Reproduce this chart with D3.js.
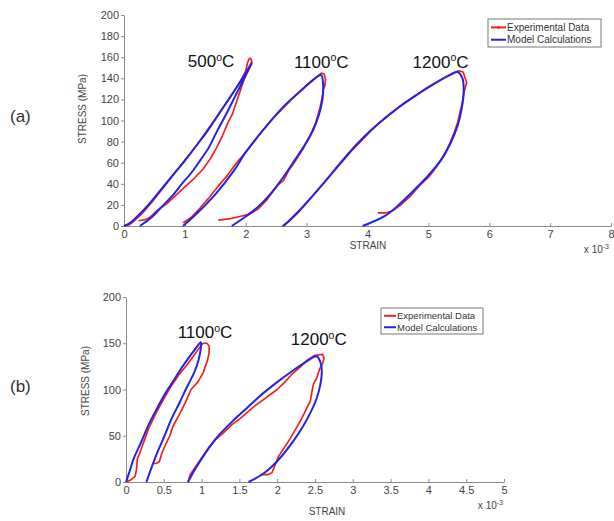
<!DOCTYPE html>
<html><head><meta charset="utf-8">
<script src="https://cdn.jsdelivr.net/npm/d3@7/dist/d3.min.js"></script>
<style>body{margin:0;background:#fff}svg{display:block;font-family:"Liberation Sans",Arial,sans-serif}</style>
</head><body><svg id="c" width="614" height="521"></svg>
<script>
// ---------- DATA (strain in 1e-3, stress in MPa) ----------
const topXTicks = [0,1,2,3,4,5,6,7,8];
const topYTicks = [0,20,40,60,80,100,120,140,160,180,200];
const botXTicks = [0,0.5,1,1.5,2,2.5,3,3.5,4,4.5,5];
const botYTicks = [0,50,100,150,200];
const legendLabels = ["Experimental Data","Model Calculations"];

// Panel (a)
const a500Model = [[0,0],[0.1,3],[0.2,8],[0.4,20],[0.6,34],[0.8,48],[1.0,62],[1.2,77],[1.4,93],[1.6,110],[1.8,127],[2.0,145],[2.1,155],
  [1.93,135],[1.8,120],[1.66,104],[1.52,89],[1.4,75],[1.25,62],[1.1,50],[0.95,40],[0.8,29],[0.6,17],[0.45,8],[0.26,0]];
const a500Exp = [[0,0],[0.08,1],[0.15,4],[0.3,12],[0.45,22],[0.6,33],[0.75,44],[0.9,55],[1.05,66],[1.2,77],[1.35,88],[1.5,101],[1.65,114],[1.8,127],[1.92,138],[2.0,147],[2.03,155],[2.06,159],[2.09,158],[2.1,154],
  [2.05,148],[1.98,140],[1.92,130],[1.85,118],[1.78,106],[1.7,97],[1.62,86],[1.52,74],[1.42,64],[1.3,54],[1.15,45],[1.0,37],[0.85,29],[0.7,21],[0.55,15],[0.42,8],[0.35,6],[0.24,5]];
const a1100Model = [[0.97,0],[1.2,12],[1.5,30],[1.8,52],[2.0,70],[2.3,92],[2.6,112],[2.9,128],[3.1,138],[3.24,143],
  [3.27,135],[3.26,120],[3.2,105],[3.1,90],[2.95,75],[2.8,62],[2.6,45],[2.4,30],[2.2,18],[2.0,9],[1.77,0]];
const a1100Exp = [[0.97,3],[1.1,8],[1.25,17],[1.4,27],[1.55,38],[1.7,48],[1.85,60],[2.0,70],[2.15,81],[2.3,92],[2.45,102],[2.6,111],[2.75,120],[2.9,128],[3.05,136],[3.18,142],[3.24,145],[3.29,144],[3.31,139],[3.3,133],[3.27,129],
  [3.27,126],[3.22,112],[3.15,98],[3.06,86],[2.95,74],[2.82,62],[2.7,52],[2.62,43],[2.55,40],[2.45,33],[2.35,25],[2.2,16],[2.05,11],[1.9,9],[1.75,7],[1.55,5.5]];
const a1200Model = [[2.62,0],[2.8,10],[3.0,22],[3.3,42],[3.6,63],[3.9,82],[4.2,98],[4.5,112],[4.8,124],[5.1,135],[5.35,143],[5.48,146],
  [5.56,140],[5.58,128],[5.55,112],[5.48,95],[5.36,78],[5.2,62],[5.0,48],[4.8,36],[4.55,22],[4.3,10],[3.92,0]];
const a1200Exp = [[2.6,0],[2.7,4],[2.85,12],[3.0,22],[3.15,32],[3.3,42],[3.45,52],[3.6,62],[3.75,72],[3.9,81],[4.05,90],[4.2,98],[4.35,105],[4.5,112],[4.65,118],[4.8,124],[4.95,130],[5.1,135],[5.25,140],[5.4,145],[5.5,147],[5.57,146],[5.6,141],[5.63,136],[5.6,130],
  [5.58,125],[5.55,115],[5.52,108],[5.48,98],[5.42,88],[5.35,78],[5.25,66],[5.12,55],[5.0,46],[4.85,38],[4.7,28],[4.55,20],[4.4,14],[4.3,12.5],[4.17,12.5]];

// Panel (b)
const b1100Model = [[0,0],[0.05,12],[0.1,25],[0.2,43],[0.3,62],[0.4,78],[0.5,93],[0.6,106],[0.7,119],[0.8,131],[0.9,142],[0.99,151],
  [0.99,145],[0.96,132],[0.9,118],[0.84,108],[0.79,100],[0.71,86],[0.6,68],[0.51,50],[0.42,33],[0.34,16],[0.27,0]];
const b1100Exp = [[0,0],[0.06,2],[0.12,6],[0.14,14],[0.15,25],[0.18,31],[0.22,40],[0.3,58],[0.4,75],[0.5,90],[0.6,104],[0.7,116],[0.8,126],[0.9,137],[0.97,145],[1.02,150],[1.07,150],[1.1,147],[1.1,140],[1.08,132],
  [1.02,118],[0.95,108],[0.86,100],[0.78,85],[0.7,72],[0.62,60],[0.58,50],[0.52,40],[0.47,30],[0.44,22],[0.4,20],[0.36,20]];
const b1200Model = [[0.82,0],[0.9,12],[1.0,25],[1.1,37],[1.2,48],[1.4,65],[1.6,80],[1.8,95],[2.0,108],[2.2,120],[2.4,131],[2.52,136],
  [2.57,130],[2.59,120],[2.57,105],[2.52,90],[2.44,75],[2.34,60],[2.22,45],[2.08,30],[1.92,16],[1.78,7],[1.62,0]];
const b1200Exp = [[0.82,0],[0.85,8],[0.9,14],[0.95,20],[1.0,26],[1.05,32],[1.1,38],[1.2,47],[1.3,54],[1.4,62],[1.5,68],[1.6,75],[1.7,82],[1.8,88],[1.9,94],[2.0,100],[2.1,108],[2.2,117],[2.3,124],[2.4,132],[2.5,137],[2.6,138],[2.62,134],[2.6,128],
  [2.56,122],[2.52,112],[2.48,106],[2.46,98],[2.44,88],[2.38,78],[2.32,68],[2.25,58],[2.18,48],[2.1,38],[2.02,28],[1.97,18],[1.93,10],[1.88,8],[1.78,8]];

const topLabels = [{t:"500",x:1.43,y:150.5},{t:"1100",x:3.24,y:150},{t:"1200",x:5.2,y:150}];
const botLabels = [{t:"1100",x:1.045,y:155.5},{t:"1200",x:2.55,y:148}];

// ---------- DRAW ----------
const svg = d3.select("#c");
const RED = "#ee2222", BLUE = "#2323e6", AX = "#8a8a8a", TXT = "#444";

function panel(o){
  const x = d3.scaleLinear().domain(o.xd).range(o.xr);
  const y = d3.scaleLinear().domain([0,200]).range(o.yr);
  const g = svg.append("g");
  const xa = g.append("g").attr("transform",`translate(0,${o.yr[0]})`)
    .call(d3.axisBottom(x).tickValues(o.xt).tickSizeInner(-3).tickSizeOuter(0).tickPadding(4).tickFormat(d3.format("~g")));
  const ya = g.append("g").attr("transform",`translate(${o.xr[0]},0)`)
    .call(d3.axisLeft(y).tickValues(o.yt).tickSizeInner(3).tickSizeOuter(0).tickPadding(2));
  [xa,ya].forEach(a=>{a.select(".domain").attr("stroke",AX);a.selectAll(".tick line").attr("stroke",AX);
    a.selectAll("text").attr("fill",TXT).attr("font-size",11).attr("font-family","Liberation Sans, Arial");});
  const line = d3.line().x(d=>x(d[0])).y(d=>y(d[1]));
  const smooth = d3.line().x(d=>x(d[0])).y(d=>y(d[1])).curve(d3.curveCatmullRom.alpha(0.5));
  o.exp.forEach(s=>g.append("path").attr("d",line(s)).attr("fill","none").attr("stroke",RED).attr("stroke-width",1.7).attr("stroke-linejoin","round"));
  o.mod.forEach(s=>g.append("path").attr("d",smooth(s)).attr("fill","none").attr("stroke",BLUE).attr("stroke-width",2).attr("stroke-linejoin","round"));
  o.labels.forEach(l=>{
    const t = g.append("text").attr("x",x(l.x)).attr("y",y(l.y)).attr("text-anchor","middle").attr("font-size",o.lfs).attr("fill","#111").attr("font-family","Liberation Sans, Arial");
    t.append("tspan").text(l.t);
    t.append("tspan").text("o").attr("font-size",o.lfs*0.62).attr("dy",-o.lfs*0.38);
    t.append("tspan").text("C").attr("dy",o.lfs*0.38);
  });
  // axis titles
  g.append("text").attr("transform",`translate(${o.ylab[0]},${o.ylab[1]}) rotate(-90)`).attr("text-anchor","middle")
    .attr("font-size",10).attr("fill",TXT).text("STRESS (MPa)");
  g.append("text").attr("x",o.xlab[0]).attr("y",o.xlab[1]).attr("text-anchor","middle").attr("font-size",10).attr("fill",TXT).text("STRAIN");
  const m = g.append("text").attr("x",o.mult[0]).attr("y",o.mult[1]).attr("text-anchor","end").attr("font-size",10).attr("fill",TXT);
  m.append("tspan").text("x 10");
  m.append("tspan").text("-3").attr("font-size",7).attr("dy",-4);
  // legend
  const L = o.leg;
  g.append("rect").attr("x",L.x).attr("y",L.y).attr("width",L.w).attr("height",L.h).attr("fill","#fff").attr("stroke","#777").attr("stroke-width",1);
  legendLabels.forEach((lab,i)=>{
    const yy = L.y + L.h*(i===0?0.3:0.74);
    g.append("line").attr("x1",L.x+3).attr("x2",L.x+3+L.ll).attr("y1",yy).attr("y2",yy).attr("stroke",i===0?RED:BLUE).attr("stroke-width",2);
    if(i===0 && L.dot) g.append("circle").attr("cx",L.x+3+L.ll/2).attr("cy",yy).attr("r",1.3).attr("fill",RED);
    g.append("text").attr("x",L.x+4+L.ll).attr("y",yy+L.fs*0.36).attr("font-size",L.fs).attr("fill","#333").text(lab);
  });
  svg.append("text").attr("x",o.tag[0]).attr("y",o.tag[1]).attr("font-size",17).attr("fill","#333").text(o.tagText);
}

panel({xd:[0,8],xr:[124,611],yr:[226,15],xt:topXTicks,yt:topYTicks,
  exp:[a500Exp,a1100Exp,a1200Exp],mod:[a500Model,a1100Model,a1200Model],labels:topLabels,lfs:17,
  ylab:[86,109],xlab:[368,249],mult:[609,253],
  leg:{x:488,y:19,w:113,h:28,ll:15,fs:10,dot:true},tag:[10,122],tagText:"(a)"});
panel({xd:[0,5],xr:[126,504],yr:[482,297],xt:botXTicks,yt:botYTicks,
  exp:[b1100Exp,b1200Exp],mod:[b1100Model,b1200Model],labels:botLabels,lfs:17,
  ylab:[89,381],xlab:[327,515],mult:[503,509],
  leg:{x:381,y:308,w:102,h:26,ll:12,fs:9.5,dot:false},tag:[10,392],tagText:"(b)"});
</script></body></html>
